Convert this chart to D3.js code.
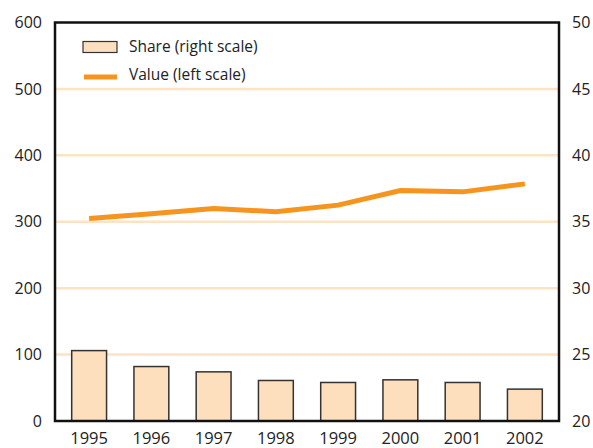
<html>
<script src="https://d3js.org/d3.v7.min.js"></script>
<style>
    body { margin: 0; background: #fff; }
    svg text { font-family: "Open Sans", "Noto Sans", sans-serif; fill: #222; }
    .tick line { display: none; }
    .domain { display: none; }
</style>
<svg width=593 height=448></svg>
<script>
    let years = ['1995', '1996', '1997', '1998', '1999', '2000', '2001', '2002'];
    let shareVals = [25.3, 24.1, 23.7, 23.05, 22.9, 23.1, 22.9, 22.4];
    let valueVals = [305, 312, 320, 315, 325, 347, 345, 357];
    let leftTicks = [0, 100, 200, 300, 400, 500, 600];
    let rightTicks = [20, 25, 30, 35, 40, 45, 50];

    let svg = d3.select('svg'),
        margin = { top: 22.5, right: 34, bottom: 27, left: 55 },
        width = +svg.attr('width') - margin.left - margin.right,
        height = +svg.attr('height') - margin.top - margin.bottom;

    let g = svg.append('g')
        .attr('transform', 'translate(' + margin.left + ',' + margin.top + ')');

    let x = d3.scaleBand().domain(years).range([3, width - 3]).paddingInner(0.44).paddingOuter(0.22);
    let yL = d3.scaleLinear().domain([0, 600]).range([height, 0]);
    let yR = d3.scaleLinear().domain([20, 50]).range([height, 0]);

    // grid
    g.selectAll('.grid').data(leftTicks.slice(1, -1)).enter().append('line')
        .attr('x1', 0).attr('x2', width)
        .attr('y1', d => yL(d)).attr('y2', d => yL(d))
        .attr('stroke', '#fde3c4').attr('stroke-width', 2.5);

    // bars
    g.selectAll('.bar').data(shareVals).enter().append('rect')
        .attr('x', (d, i) => x(years[i]))
        .attr('width', x.bandwidth())
        .attr('y', d => yR(d))
        .attr('height', d => height - yR(d))
        .attr('fill', '#fddfbd').attr('stroke', '#333').attr('stroke-width', 1.5);

    // line
    let line = d3.line().x((d, i) => x(years[i]) + x.bandwidth() / 2).y(d => yL(d));
    g.append('path').datum(valueVals)
        .attr('d', line).attr('fill', 'none')
        .attr('stroke', '#f7941d').attr('stroke-width', 5);

    // frame
    g.append('rect').attr('width', width).attr('height', height)
        .attr('fill', 'none').attr('stroke', '#111').attr('stroke-width', 2.5);

    // axes
    g.append('g').call(d3.axisLeft(yL).tickValues(leftTicks).tickSize(0).tickPadding(13))
        .selectAll('text').style('font-size', '16px');
    g.append('g').attr('transform', 'translate(' + width + ',0)')
        .call(d3.axisRight(yR).tickValues(rightTicks).tickSize(0).tickPadding(13))
        .selectAll('text').style('font-size', '16px');
    g.append('g').attr('transform', 'translate(0,' + height + ')')
        .call(d3.axisBottom(x).tickSize(0).tickPadding(11))
        .selectAll('text').style('font-size', '16.5px');
    g.selectAll('.domain').remove();

    // legend
    let lg = svg.append('g').attr('transform', 'translate(83,0)');
    lg.append('rect').attr('x', 0).attr('y', 41.5).attr('width', 34).attr('height', 11)
        .attr('fill', '#fddfbd').attr('stroke', '#333').attr('stroke-width', 1.2);
    lg.append('text').attr('x', 46).attr('y', 52).text('Share (right scale)').style('font-size', '15.5px');
    lg.append('line').attr('x1', 1).attr('x2', 34).attr('y1', 77).attr('y2', 77)
        .attr('stroke', '#f7941d').attr('stroke-width', 5);
    lg.append('text').attr('x', 46).attr('y', 80).text('Value (left scale)').style('font-size', '15.5px');
</script>
</html>
